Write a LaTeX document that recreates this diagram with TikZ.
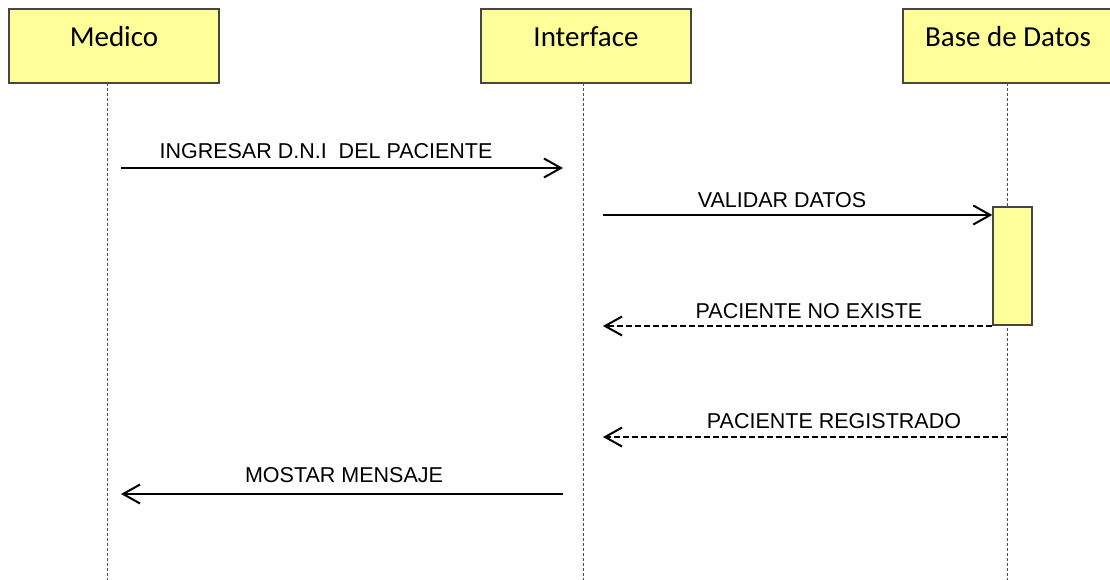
\documentclass[tikz,border=0pt]{standalone}
\usepackage{fontspec}
\setmainfont{Liberation Sans}
\newfontfamily\boxfont{Carlito}
\usetikzlibrary{arrows.meta}
\definecolor{boxyellow}{RGB}{255,255,153}
\definecolor{boxedge}{RGB}{70,70,70}
\definecolor{lifegrey}{RGB}{80,80,80}
\tikzset{
  actor/.style={draw=boxedge, line width=1.4pt, fill=boxyellow, minimum width=210pt, minimum height=74pt,
    inner sep=0pt, text height=20pt, text depth=18pt, font=\boxfont\fontsize{29}{30}\selectfont},
  actbar/.style={draw=boxedge, line width=1.4pt, fill=boxyellow, minimum width=39pt, minimum height=118pt, inner sep=0pt},
  lifeline/.style={draw=lifegrey, line width=1pt, dash pattern=on 3pt off 2pt},
  msg/.style={line width=2pt, -{Straight Barb[length=17pt,width=19pt,line width=2pt]}},
  reply/.style={msg, dash pattern=on 6pt off 3pt},
  msglabel/.style={inner sep=0pt, font=\fontsize{21.5}{23}\selectfont}
}
\begin{document}
\begin{tikzpicture}[x=1pt,y=-1pt]
\useasboundingbox (0,0) rectangle (1110,580);
\clip (0,0) rectangle (1110,580);
\fill[white] (0,0) rectangle (1110,580);
% actors
\node[actor] (med) at (114,46) {Medico};
\node[actor] (int) at (586,46) {Interface};
\node[actor] (bd) at (1008,46) {Base de Datos};
% lifelines
\coordinate (medtop) at (107,83);
\coordinate (medbot) at (107,580);
\coordinate (inttop) at (583,83);
\coordinate (intbot) at (583,580);
\coordinate (bdtop) at (1007,83);
\coordinate (bdbot) at (1007,580);
\draw[lifeline] (medtop) -- (medbot);
\draw[lifeline] (inttop) -- (intbot);
\draw[lifeline] (bdtop) -- (bdbot);
% activation bar
\node[actbar] (act) at (1012.5,266) {};
% message endpoints
\coordinate (m1a) at (121,168);
\coordinate (m1b) at (563,168);
\coordinate (m2a) at (603,215);
\coordinate (m2b) at (act.west |- 0,215);
\coordinate (m3a) at (act.west |- 0,326);
\coordinate (m3b) at (603,326);
\coordinate (m4a) at (1007,437);
\coordinate (m4b) at (603,437);
\coordinate (m5a) at (563,494);
\coordinate (m5b) at (121,494);
% messages
\draw[msg] (m1a) -- (m1b);
\draw[msg] (m2a) -- (m2b);
\draw[reply] (m3a) -- (m3b);
\draw[reply] (m4a) -- (m4b);
\draw[msg] (m5a) -- (m5b);
% labels
\node[msglabel] (l1) at (326,151) {INGRESAR D.N.I \ DEL PACIENTE};
\node[msglabel] (l2) at (782,200) {VALIDAR DATOS};
\node[msglabel] (l3) at (809,311) {PACIENTE NO EXISTE};
\node[msglabel] (l4) at (834,421) {PACIENTE REGISTRADO};
\node[msglabel] (l5) at (344,475) {MOSTAR MENSAJE};
\end{tikzpicture}
\end{document}
